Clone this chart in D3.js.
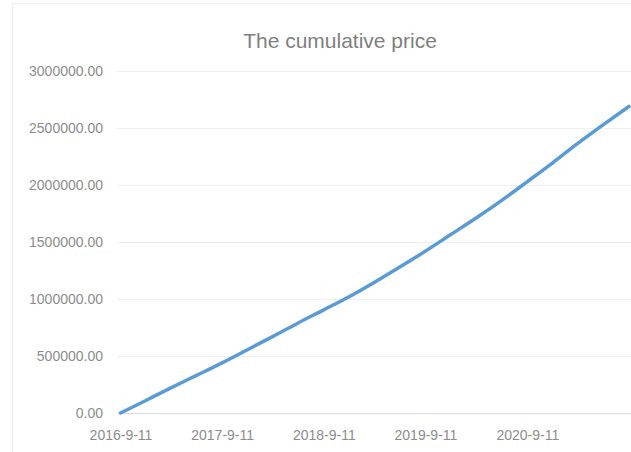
<!DOCTYPE html>
<html>
<head>
<meta charset="utf-8">
<script src="https://cdn.jsdelivr.net/npm/d3@7"></script>
<style>
  html, body { margin: 0; padding: 0; background: #fff; }
  svg { display: block; }
</style>
</head>
<body>
<svg id="chart" width="631" height="452"></svg>
<script>
// Quarterly cumulative price, 2016-9-11 through 2021-9-11
const dates = [
  "2016-09-11", "2016-12-11", "2017-03-11", "2017-06-11",
  "2017-09-11", "2017-12-11", "2018-03-11", "2018-06-11",
  "2018-09-11", "2018-12-11", "2019-03-11", "2019-06-11",
  "2019-09-11", "2019-12-11", "2020-03-11", "2020-06-11",
  "2020-09-11", "2020-12-11", "2021-03-11", "2021-06-11",
  "2021-09-11"
];
const cumulativePrice = [
  0, 110000, 220000, 330000,
  440000, 555000, 670000, 790000,
  905000, 1020000, 1145000, 1280000,
  1420000, 1565000, 1710000, 1865000,
  2030000, 2195000, 2365000, 2530000,
  2690000
];
const xTickLabels = ["2016-9-11", "2017-9-11", "2018-9-11", "2019-9-11", "2020-9-11"];
const yTicks = [0, 500000, 1000000, 1500000, 2000000, 2500000, 3000000];
const chartTitle = "The cumulative price";

const parse = d3.timeParse("%Y-%m-%d");
const parseLabel = d3.timeParse("%Y-%-m-%-d");
const points = dates.map((d, i) => ({ date: parse(d), value: cumulativePrice[i] }));

const svg = d3.select("#chart");
const font = "'Liberation Sans', Arial, sans-serif";
const textColor = "#8c8c8c";

// chart area frame
svg.append("rect")
  .attr("x", 12.5).attr("y", 3.5)
  .attr("width", 700).attr("height", 500)
  .attr("fill", "none")
  .attr("stroke", "#eeeeee")
  .attr("stroke-width", 1.5);

const x = d3.scaleTime()
  .domain([parse(dates[0]), parse(dates[dates.length - 1])])
  .range([120.5, 629]);

const y = d3.scaleLinear()
  .domain([0, 3000000])
  .range([413, 71]);

// horizontal gridlines with value labels
const yAxis = d3.axisLeft(y)
  .tickValues(yTicks)
  .tickSize(-(640 - 118))
  .tickPadding(15)
  .tickFormat(d3.format(".2f"));

const gy = svg.append("g")
  .attr("transform", "translate(118,0)")
  .call(yAxis);
gy.select(".domain").remove();
gy.selectAll(".tick line")
  .attr("stroke", d => d === 0 ? "#d9d9d9" : "#efefef")
  .attr("stroke-width", 1.2);
gy.selectAll(".tick text")
  .attr("fill", textColor)
  .attr("font-family", font)
  .attr("font-size", 14)
  .attr("x", -15);

// date labels along the bottom
const xAxis = d3.axisBottom(x)
  .tickValues(xTickLabels.map(s => parseLabel(s)))
  .tickSize(0)
  .tickPadding(17)
  .tickFormat((d, i) => xTickLabels[i]);

const gx = svg.append("g")
  .attr("transform", "translate(0,413)")
  .call(xAxis);
gx.select(".domain").remove();
gx.selectAll(".tick text")
  .attr("fill", textColor)
  .attr("font-family", font)
  .attr("font-size", 14);

// cumulative price line
const line = d3.line()
  .x(d => x(d.date))
  .y(d => y(d.value))
  .curve(d3.curveMonotoneX);

svg.append("path")
  .datum(points)
  .attr("fill", "none")
  .attr("stroke", "#5b9bd5")
  .attr("stroke-width", 3.5)
  .attr("stroke-linecap", "round")
  .attr("stroke-linejoin", "round")
  .attr("d", line);

// title
svg.append("text")
  .attr("x", 340)
  .attr("y", 48)
  .attr("text-anchor", "middle")
  .attr("fill", "#7f7f7f")
  .attr("font-family", font)
  .attr("font-size", 21)
  .text(chartTitle);
</script>
</body>
</html>
